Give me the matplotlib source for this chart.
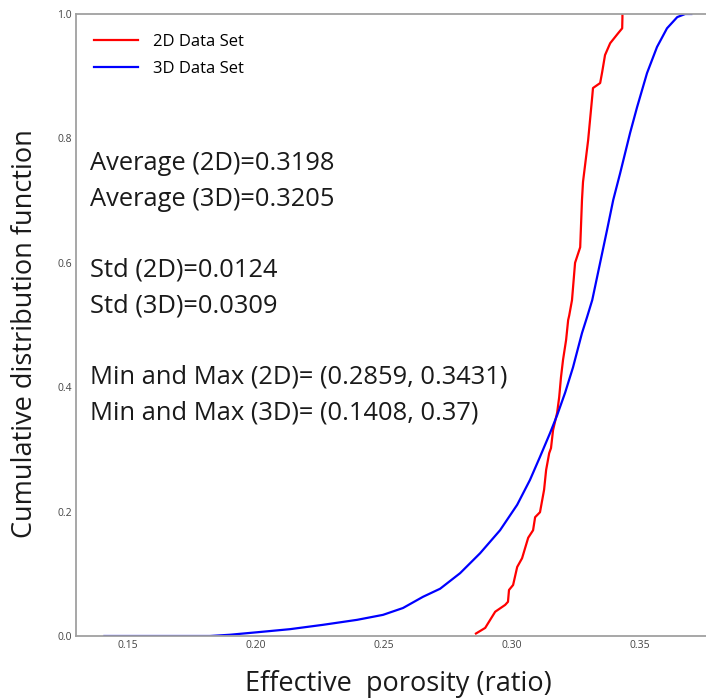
import numpy as np
import matplotlib
matplotlib.use("Agg")
import matplotlib.pyplot as plt

plt.rcParams["font.family"] = ["Open Sans", "DejaVu Sans"]

# empirical CDF of effective porosity, 2D sections
por_2d = [0.2859, 0.2895, 0.2934, 0.2973, 0.2984, 0.2988, 0.3004, 0.3020, 0.3039,
          0.3063, 0.3082, 0.3090, 0.3109, 0.3125, 0.3133, 0.3145, 0.3152, 0.3160,
          0.3176, 0.3184, 0.3191, 0.3199, 0.3211, 0.3219, 0.3223, 0.3234, 0.3246,
          0.3266, 0.3273, 0.3277, 0.3297, 0.3313, 0.3316, 0.3344, 0.3352, 0.3363,
          0.3383, 0.3414, 0.3430, 0.3431, 0.3431]
cdf_2d = [0.004, 0.013, 0.039, 0.050, 0.055, 0.074, 0.082, 0.111, 0.125,
          0.158, 0.170, 0.191, 0.199, 0.235, 0.267, 0.294, 0.302, 0.331,
          0.359, 0.384, 0.416, 0.444, 0.476, 0.508, 0.515, 0.540, 0.600,
          0.625, 0.701, 0.730, 0.797, 0.867, 0.881, 0.889, 0.907, 0.934,
          0.953, 0.969, 0.977, 0.995, 1.0]

# empirical CDF of effective porosity, 3D volumes
por_3d = [0.1408, 0.1820, 0.1898, 0.2004, 0.2133, 0.2262, 0.2395, 0.2496, 0.2574,
          0.2652, 0.2719, 0.2797, 0.2875, 0.2953, 0.3020, 0.3070, 0.3109, 0.3148,
          0.3176, 0.3207, 0.3238, 0.3273, 0.3293, 0.3313, 0.3332, 0.3371, 0.3395,
          0.3422, 0.3461, 0.3488, 0.3527, 0.3566, 0.3605, 0.3645, 0.3676, 0.3700]
cdf_3d = [0.0, 0.0, 0.002, 0.006, 0.011, 0.018, 0.026, 0.034, 0.045,
          0.063, 0.076, 0.101, 0.133, 0.170, 0.211, 0.251, 0.288, 0.326,
          0.355, 0.391, 0.432, 0.487, 0.513, 0.540, 0.577, 0.653, 0.701,
          0.744, 0.809, 0.850, 0.905, 0.947, 0.977, 0.995, 1.0, 1.0]

stats_lines = [
    "Average (2D)=0.3198",
    "Average (3D)=0.3205",
    "",
    "Std (2D)=0.0124",
    "Std (3D)=0.0309",
    "",
    "Min and Max (2D)= (0.2859, 0.3431)",
    "Min and Max (3D)= (0.1408, 0.37)",
]

xticks = [0.15, 0.20, 0.25, 0.30, 0.35]
yticks = [0.0, 0.2, 0.4, 0.6, 0.8, 1.0]

fig = plt.figure(figsize=(7.06, 6.98), dpi=100)
ax = fig.add_axes([76 / 706, 62 / 698, 644 / 706, 622 / 698])

ax.plot(por_2d, cdf_2d, color="#ff0000", lw=1.6, label="2D Data Set")
ax.plot(por_3d, cdf_3d, color="#0000ff", lw=1.6, label="3D Data Set")

ax.set_xlim(0.1297, 0.3812)
ax.set_ylim(0, 1)
ax.set_xticks(xticks)
ax.set_xticklabels([f"{t:.2f}" for t in xticks])
ax.set_yticks(yticks)
ax.set_yticklabels([f"{t:.1f}" for t in yticks])
ax.tick_params(length=0, labelsize=7.5, labelcolor="#444444", pad=3)

for s in ax.spines.values():
    s.set_color("#a0a0a0")
    s.set_linewidth(1.3)
ax.spines["right"].set_visible(False)

ax.set_xlabel("Effective  porosity (ratio)", fontsize=19.5, color="#1a1a1a")
ax.set_ylabel("Cumulative distribution function", fontsize=19.5, color="#1a1a1a")
ax.xaxis.set_label_coords(0.5, -0.055)
ax.yaxis.set_label_coords(-0.058, 0.486)

leg = ax.legend(loc="upper left", frameon=False, fontsize=12,
                handlelength=2.6, handletextpad=0.9, labelspacing=0.65,
                bbox_to_anchor=(0.005, 0.992))

y0 = 164
for i, line in enumerate(stats_lines):
    if line:
        fig.text(90 / 706, 1 - (y0 + i * 35.5) / 698, line, fontsize=18.4,
                 va="center", ha="left", color="#1a1a1a")

fig.savefig("out.png", dpi=100)
